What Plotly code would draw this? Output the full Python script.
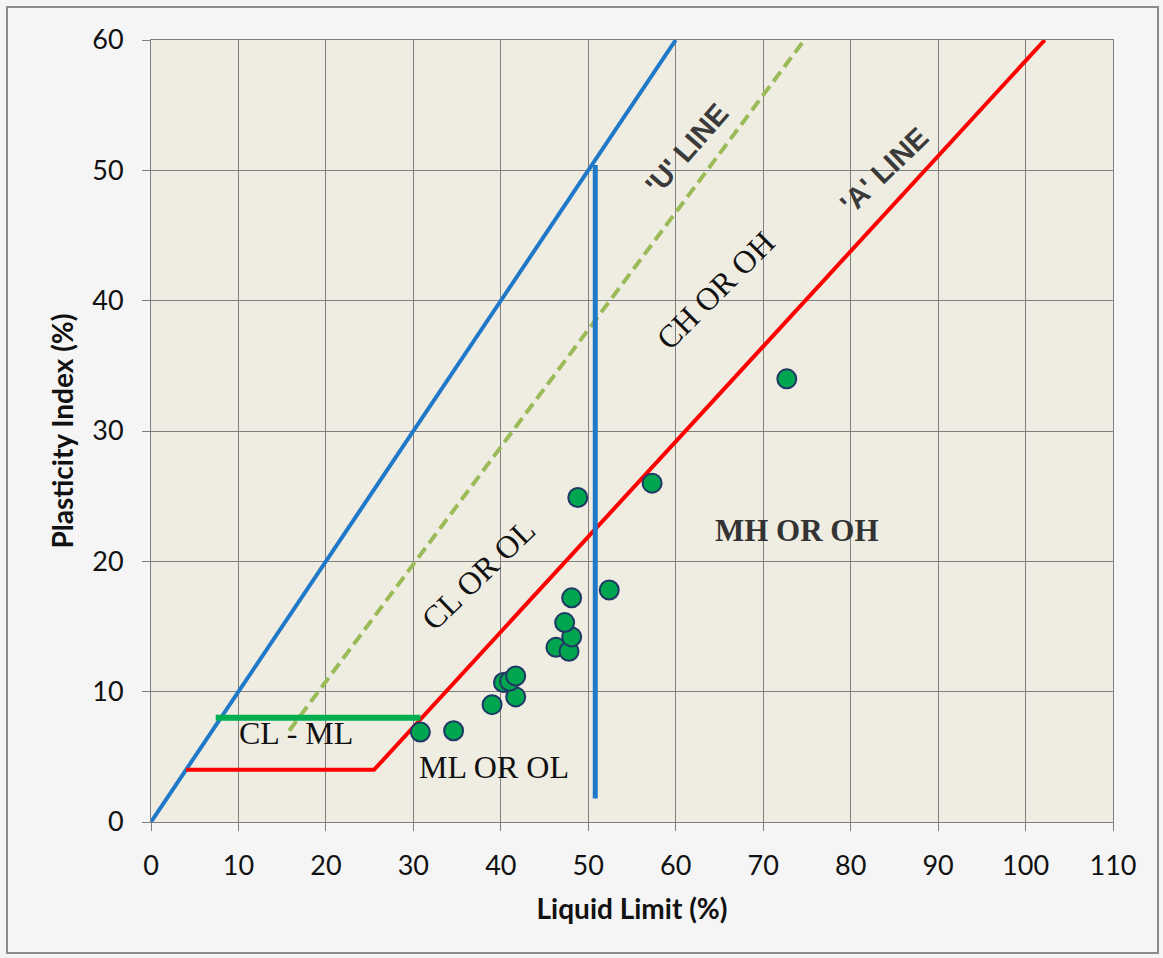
import plotly.graph_objects as go

# Soil samples: liquid limit vs plasticity index
liquid_limit = [30.8, 34.6, 39.0, 41.7, 40.3, 41.0, 41.7, 46.3, 47.8, 48.1, 47.3, 48.1, 52.4, 48.8, 57.3, 72.7]
plasticity_index = [6.9, 7.0, 9.0, 9.6, 10.7, 10.8, 11.2, 13.4, 13.1, 14.2, 15.3, 17.2, 17.8, 24.9, 26.0, 34.0]

# Chart boundary lines
u_upper_x = [0, 60]
u_upper_y = [0, 60]
u_line_x = [15.8, 74.7]
u_line_y = [7.0, 60.0]
a_line_x = [4, 25.5, 102.2]
a_line_y = [4, 4, 60]
clml_x = [7.4, 30.8]
clml_y = [8, 8]
ll50_x = [50.8, 50.8]
ll50_y = [1.8, 50.4]

x_ticks = list(range(0, 111, 10))
y_ticks = list(range(0, 61, 10))

fig = go.Figure()

fig.add_trace(go.Scatter(x=u_upper_x, y=u_upper_y, mode="lines",
                         line=dict(color="#1F78C8", width=4), hoverinfo="skip"))
fig.add_trace(go.Scatter(x=u_line_x, y=u_line_y, mode="lines",
                         line=dict(color="#9BBB59", width=4, dash="12px,6px"), hoverinfo="skip"))
fig.add_trace(go.Scatter(x=a_line_x, y=a_line_y, mode="lines",
                         line=dict(color="#FF0000", width=4), hoverinfo="skip"))
fig.add_trace(go.Scatter(x=clml_x, y=clml_y, mode="lines",
                         line=dict(color="#00B050", width=6), hoverinfo="skip"))
fig.add_trace(go.Scatter(x=ll50_x, y=ll50_y, mode="lines",
                         line=dict(color="#1F78C8", width=5), hoverinfo="skip"))
fig.add_trace(go.Scatter(x=liquid_limit, y=plasticity_index, mode="markers",
                         marker=dict(size=19, color="#00A550",
                                     line=dict(color="#1F3864", width=2))))

serif = "Liberation Serif"
annotations = [
    dict(x=61.3, y=51.6, text="<b>'U' LINE</b>", textangle=-49,
         font=dict(family="Liberation Sans", size=29, color="#3A3A3A")),
    dict(x=83.9, y=50.0, text="<b>'A' LINE</b>", textangle=-44,
         font=dict(family="Liberation Sans", size=29, color="#3A3A3A")),
    dict(x=64.6, y=40.8, text="CH OR OH", textangle=-45,
         font=dict(family=serif, size=32, color="#111111")),
    dict(x=37.5, y=19.0, text="CL OR OL", textangle=-44,
         font=dict(family=serif, size=32, color="#111111")),
    dict(x=73.9, y=22.4, text="<b>MH OR OH</b>",
         font=dict(family=serif, size=31, color="#333333")),
    dict(x=39.2, y=4.2, text="ML OR OL",
         font=dict(family=serif, size=32, color="#111111")),
    dict(x=16.6, y=6.8, text="CL - ML",
         font=dict(family=serif, size=32, color="#111111")),
]
for a in annotations:
    a.update(xref="x", yref="y", showarrow=False)

axis_common = dict(
    showgrid=True, gridcolor="#7F7F7F", gridwidth=1,
    showline=True, linecolor="#7F7F7F", linewidth=1, mirror=True,
    ticks="outside", ticklen=8, tickcolor="#7F7F7F",
    zeroline=False,
    tickfont=dict(family="Lato", size=27, color="#111111"),
)

fig.update_layout(
    width=1163, height=958,
    margin=dict(l=151, r=50, t=40, b=136),
    paper_bgcolor="#F5F5F5",
    plot_bgcolor="#EFECE2",
    showlegend=False,
    annotations=annotations,
    xaxis=dict(range=[0, 110], tickvals=x_ticks, ticklabelstandoff=12,
               title=dict(text="<b>Liquid Limit (%)</b>", standoff=18,
                          font=dict(family="Lato", size=28, color="#111111")),
               **axis_common),
    yaxis=dict(range=[0, 60], tickvals=y_ticks, ticklabelstandoff=13,
               title=dict(text="<b>Plasticity Index (%)</b>", standoff=10,
                          font=dict(family="Lato", size=28, color="#111111")),
               **axis_common),
    shapes=[dict(type="rect", xref="paper", yref="paper",
                 x0=-0.1497, x1=1.0468, y0=-0.1675, y1=1.0422,
                 line=dict(color="#8C8C8C", width=2), layer="below")],
)

fig.write_html("out.html")
